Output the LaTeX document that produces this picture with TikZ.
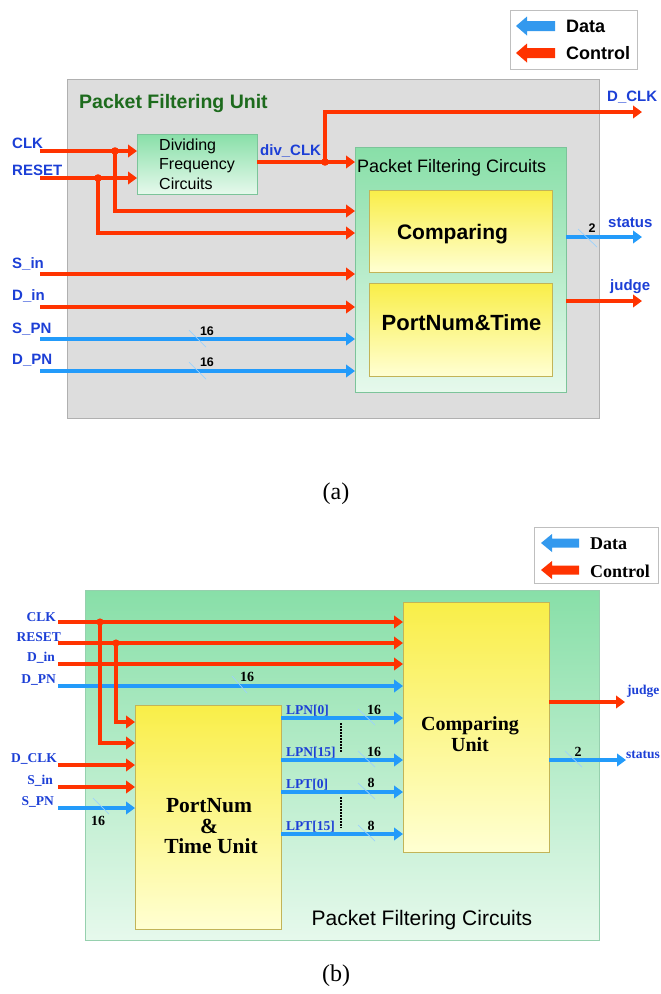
\documentclass[tikz,border=0pt]{standalone}
\usepackage{fontspec}
\setmainfont{Liberation Serif}
\setsansfont{Liberation Sans}
\usetikzlibrary{arrows.meta}
\definecolor{ctrl}{HTML}{FF3300}
\definecolor{dat}{HTML}{239BFA}
\definecolor{legblue}{HTML}{3399EE}
\definecolor{lblue}{HTML}{1C3FD6}
\definecolor{titlegreen}{HTML}{1D6B1D}
\definecolor{gtop}{HTML}{88DFA8}
\definecolor{gbot}{HTML}{E6F9EC}
\definecolor{gbd}{HTML}{7CC49A}
\definecolor{ytop}{HTML}{F9EE48}
\definecolor{ybot}{HTML}{FFFFD2}
\definecolor{ybd}{HTML}{C2B458}
\definecolor{grayfill}{HTML}{DDDDDD}
\definecolor{graybd}{HTML}{B0B0B0}
\begin{document}
\begin{tikzpicture}[x=1pt,y=-1pt,
  ctl/.style={draw=ctrl, line width=3.1pt, -{Triangle[length=9pt,width=12.5pt]}},
  dt/.style={draw=dat, line width=3.1pt, -{Triangle[length=9pt,width=12.5pt]}},
  busslash/.style={draw=dat!45, line width=0.7pt},
  greenbox/.style={draw=gbd, line width=0.8pt, top color=gtop, bottom color=gbot, inner sep=0, outer sep=0},
  yelbox/.style={draw=ybd, line width=0.8pt, top color=ytop, bottom color=ybot, inner sep=0, outer sep=0},
  legbox/.style={draw=black!25, line width=0.8pt, fill=white, inner sep=0},
  asig/.style={font=\sffamily\bfseries\fontsize{15}{15}\selectfont, text=lblue, inner sep=0},
  anum/.style={font=\sffamily\bfseries\fontsize{12.5}{12.5}\selectfont, inner sep=0},
  bsig/.style={font=\bfseries\fontsize{13.5}{13.5}\selectfont, text=lblue, inner sep=0},
  bnum/.style={font=\bfseries\fontsize{14}{14}\selectfont, inner sep=0},
  dot/.style={fill=ctrl},
  vdots/.style={draw=black, line width=2pt, dash pattern=on 1.5pt off 1.5pt}
]
\useasboundingbox (0,0) rectangle (661,994);

% ================= (a) =================
% legend
\node[legbox, minimum width=127pt, minimum height=59pt] (lega) at (573.5,39.5) {};
\fill[legblue] (516,26) -- (527,16.5) -- (527,21) -- (555,21) -- (555,31) -- (527,31) -- (527,35.5) -- cycle;
\fill[ctrl] (516,53) -- (527,43.5) -- (527,48) -- (555,48) -- (555,58) -- (527,58) -- (527,62.5) -- cycle;
\node[anchor=west, inner sep=0, font=\sffamily\bfseries\fontsize{18}{18}\selectfont] (legad) at (566,26) {Data};
\node[anchor=west, inner sep=0, font=\sffamily\bfseries\fontsize{18}{18}\selectfont] (legac) at (566,53) {Control};

% outer unit
\node[draw=graybd, fill=grayfill, line width=0.8pt, minimum width=532pt, minimum height=339pt, inner sep=0, outer sep=0, anchor=north west] (pfu) at (67,79) {};
\node[anchor=west, inner sep=0, text=titlegreen, font=\sffamily\bfseries\fontsize{19.5}{19.5}\selectfont] (pfutitle) at (79,103) {Packet Filtering Unit};

% dividing frequency circuits
\node[greenbox, minimum width=120pt, minimum height=60pt, align=left, font=\sffamily\fontsize{16}{19.5}\selectfont] (dfc) at (197,164) {Dividing\\Frequency\\Circuits};

% packet filtering circuits
\node[greenbox, minimum width=211pt, minimum height=245pt] (pfc) at (460.5,269.5) {};
\node[anchor=west, inner sep=0, font=\sffamily\fontsize{18}{18}\selectfont] (pfclbl) at (357,168) {Packet Filtering Circuits};
\node[yelbox, minimum width=183pt, minimum height=82pt,
  label={[name=cmptxt, xshift=-8pt, yshift=-3pt, font=\sffamily\bfseries\fontsize{21}{21}\selectfont]center:Comparing}] (cmp) at (460.5,231) {};
\node[yelbox, minimum width=183pt, minimum height=93pt,
  label={[name=ptmtxt, xshift=1pt, yshift=7pt, font=\sffamily\bfseries\fontsize{22}{22}\selectfont]center:PortNum\&Time}] (ptm) at (460.5,329.5) {};

% inputs
\node[asig, anchor=west] (clka) at (12,143) {CLK};
\node[asig, anchor=west] (rsta) at (12,170) {RESET};
\node[asig, anchor=west] (sina) at (12,264) {S\_in};
\node[asig, anchor=west] (dina) at (12,296) {D\_in};
\node[asig, anchor=west] (spna) at (12,329) {S\_PN};
\node[asig, anchor=west] (dpna) at (12,360) {D\_PN};

\coordinate (clk0) at (40,151);
\coordinate (rst0) at (40,178);
\coordinate (j1) at (115,151);
\coordinate (j2) at (98,178);
\coordinate (clkB) at (115,211);
\coordinate (rstB) at (98,233);
\draw[ctl] (clk0) -- (clk0 -| dfc.west);
\draw[ctl] (rst0) -- (rst0 -| dfc.west);
\draw[ctl] (j1) -- (clkB) -- (clkB -| pfc.west);
\draw[ctl] (j2) -- (rstB) -- (rstB -| pfc.west);
\fill[dot] (j1) circle (3.8);
\fill[dot] (j2) circle (3.8);

\coordinate (sin0) at (40,274);
\coordinate (din0) at (40,307);
\coordinate (spn0) at (40,339);
\coordinate (dpn0) at (40,371);
\draw[ctl] (sin0) -- (sin0 -| pfc.west);
\draw[ctl] (din0) -- (din0 -| pfc.west);
\draw[dt] (spn0) -- (spn0 -| pfc.west);
\draw[dt] (dpn0) -- (dpn0 -| pfc.west);
\draw[busslash] (189,330) -- (206,347);
\draw[busslash] (189,362) -- (206,379);
\node[anum] (n16a) at (207,331) {16};
\node[anum] (n16b) at (207,362) {16};

% div_CLK and D_CLK
\coordinate (j3) at (325,162);
\coordinate (dclkc) at (325,112);
\coordinate (dclkend) at (642,112);
\draw[ctl] ([yshift=2pt]dfc.east) -- (j3 -| pfc.west);
\draw[ctl] (j3) -- (dclkc) -- (dclkend);
\fill[dot] (j3) circle (3.8);
\node[asig, anchor=west] (divlbl) at (260,151) {div\_CLK};
\node[asig, anchor=west] (dclka) at (607,97) {D\_CLK};

% outputs
\coordinate (staend) at (642,237);
\coordinate (judend) at (642,301);
\draw[dt] (staend -| pfc.east) -- (staend);
\draw[ctl] (judend -| pfc.east) -- (judend);
\draw[busslash] (578,229) -- (597,247);
\node[anum] (n2a) at (592,228) {2};
\node[asig, anchor=west] (staa) at (608,223) {status};
\node[asig, anchor=west] (juda) at (610,287) {judge};

\node[inner sep=0, font=\fontsize{24}{24}\selectfont] (capa) at (336,494) {(a)};

% ================= (b) =================
\node[legbox, minimum width=124pt, minimum height=56pt] (legb) at (596,555) {};
\fill[legblue] (541,543) -- (552,534) -- (552,538.5) -- (579,538.5) -- (579,547.5) -- (552,547.5) -- (552,552) -- cycle;
\fill[ctrl] (541,570) -- (552,561) -- (552,565.5) -- (579,565.5) -- (579,574.5) -- (552,574.5) -- (552,579) -- cycle;
\node[anchor=west, inner sep=0, font=\bfseries\fontsize{18}{18}\selectfont] (legbd) at (590,544) {Data};
\node[anchor=west, inner sep=0, font=\bfseries\fontsize{18}{18}\selectfont] (legbc) at (590,571) {Control};

\node[draw=gbd!80, line width=0.8pt, top color=gtop, bottom color=gbot, minimum width=514pt, minimum height=350pt, inner sep=0, outer sep=0, anchor=north west] (pfcb) at (85,590) {};
\node[inner sep=0, font=\sffamily\fontsize{21}{21}\selectfont] (pfcblbl) at (422,920) {Packet Filtering Circuits};

\node[yelbox, minimum width=146pt, minimum height=224pt] (ptu) at (208,817) {};
\node[inner sep=0, font=\bfseries\fontsize{21.5}{21.5}\selectfont] (ptuA) at (209,806) {PortNum};
\node[inner sep=0, font=\bfseries\fontsize{21.5}{21.5}\selectfont] (ptuB) at (209,826) {\&};
\node[inner sep=0, font=\bfseries\fontsize{21.5}{21.5}\selectfont] (ptuC) at (211,846) {Time Unit};
\node[yelbox, minimum width=146pt, minimum height=250pt,
  label={[name=cmputxt, xshift=-6pt, yshift=-7pt, align=center, font=\bfseries\fontsize{20}{21}\selectfont]center:Comparing\\Unit}] (cmpu) at (476,727) {};

% input labels
\node[bsig, anchor=east] (clkb) at (56,617) {CLK};
\node[bsig, anchor=east] (rstb) at (61,637) {RESET};
\node[bsig, anchor=east] (dinb) at (55,658) {D\_in};
\node[bsig, anchor=east] (dpnb) at (56,680) {D\_PN};
\node[bsig, anchor=east] (dclkb) at (57,759) {D\_CLK};
\node[bsig, anchor=east] (sinb) at (53,781) {S\_in};
\node[bsig, anchor=east] (spnb) at (54,802) {S\_PN};

\coordinate (bclk0) at (58,622);
\coordinate (brst0) at (58,643);
\coordinate (bdin0) at (58,664);
\coordinate (bdpn0) at (58,686);
\coordinate (bdclk0) at (58,765);
\coordinate (bsin0) at (58,787);
\coordinate (bspn0) at (58,808);
\draw[ctl] (bclk0) -- (bclk0 -| cmpu.west);
\draw[ctl] (brst0) -- (brst0 -| cmpu.west);
\draw[ctl] (bdin0) -- (bdin0 -| cmpu.west);
\draw[dt] (bdpn0) -- (bdpn0 -| cmpu.west);
\draw[busslash] (232,676) -- (247,693);
\node[bnum] (n16c) at (247,677) {16};

\coordinate (k1) at (100,622);
\coordinate (k2) at (116,643);
\coordinate (k1b) at (100,743);
\coordinate (k2b) at (116,722);
\draw[ctl] (k1) -- (k1b) -- (k1b -| ptu.west);
\draw[ctl] (k2) -- (k2b) -- (k2b -| ptu.west);
\fill[dot] (k1) circle (3.6);
\fill[dot] (k2) circle (3.6);

\draw[ctl] (bdclk0) -- (bdclk0 -| ptu.west);
\draw[ctl] (bsin0) -- (bsin0 -| ptu.west);
\draw[dt] (bspn0) -- (bspn0 -| ptu.west);
\draw[busslash] (93,798) -- (109,814);
\node[bnum] (n16d) at (98,821) {16};

% LPN / LPT buses
\coordinate (lp0) at (283,718);
\coordinate (lp15) at (283,760);
\coordinate (lt0) at (283,792);
\coordinate (lt15) at (283,834);
\draw[dt] (ptu.east |- lp0) -- (lp0 -| cmpu.west);
\draw[dt] (ptu.east |- lp15) -- (lp15 -| cmpu.west);
\draw[dt] (ptu.east |- lt0) -- (lt0 -| cmpu.west);
\draw[dt] (ptu.east |- lt15) -- (lt15 -| cmpu.west);
\node[bsig, anchor=south west] (lpn0) at (286,716) {LPN[0]};
\node[bsig, anchor=south west] (lpn15) at (286,758) {LPN[15]};
\node[bsig, anchor=south west] (lpt0) at (286,790) {LPT[0]};
\node[bsig, anchor=south west] (lpt15) at (286,832) {LPT[15]};
\draw[busslash] (358,709) -- (375,725);
\draw[busslash] (358,751) -- (375,767);
\draw[busslash] (358,783) -- (375,799);
\draw[busslash] (358,825) -- (375,841);
\node[bnum] (n16e) at (374,710) {16};
\node[bnum] (n16f) at (374,752) {16};
\node[bnum] (n8a) at (371,783) {8};
\node[bnum] (n8b) at (371,826) {8};
\coordinate (vd1a) at (341,723);
\coordinate (vd1b) at (341,753);
\coordinate (vd2a) at (341,797);
\coordinate (vd2b) at (341,828);
\draw[vdots] (vd1a) -- (vd1b);
\draw[vdots] (vd2a) -- (vd2b);

% outputs
\coordinate (judbend) at (625,702);
\coordinate (stabend) at (626,760);
\draw[ctl] (judbend -| cmpu.east) -- (judbend);
\draw[dt] (stabend -| cmpu.east) -- (stabend);
\draw[busslash] (565,751) -- (582,767);
\node[bnum] (n2b) at (578,752) {2};
\node[bsig, anchor=west] (judb) at (627,691) {judge};
\node[bsig, anchor=west] (stab) at (626,755) {status};

\node[inner sep=0, font=\fontsize{24}{24}\selectfont] (capb) at (336,976) {(b)};
\end{tikzpicture}
\end{document}
